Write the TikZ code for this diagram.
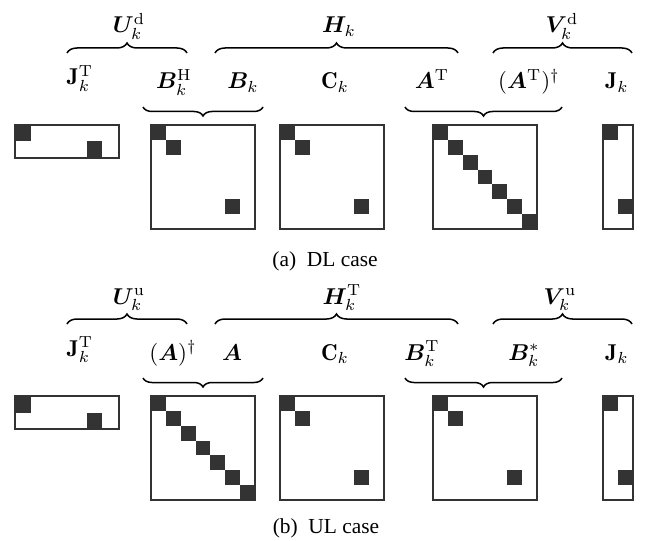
\documentclass[tikz,border=0pt]{standalone}
\usepackage{bm}
\usepackage{fontspec}
\newfontfamily\capfont{Liberation Serif}
\usetikzlibrary{decorations.pathreplacing}
\definecolor{ink}{HTML}{333333}
\tikzset{
  matbox/.style={draw=ink, line width=1.4bp, inner sep=0pt, outer sep=0pt, anchor=north west},
  upbrace/.style={decorate, decoration={brace, amplitude=10bp}, line width=1.5bp},
  lowbrace/.style={decorate, decoration={brace, amplitude=9bp}, line width=1.5bp},
  lbl/.style={anchor=base, inner sep=0pt, scale=2.3, font=\fontsize{10}{12}\selectfont},
  captext/.style={anchor=base, inner sep=0pt, font=\capfont\fontsize{21.5}{25}\selectfont},
}
\newcommand\sqcells[3]{\foreach \i/\j in {#3} {\fill[ink] ({#1+\j*14.857},{#2+\i*14.857}) rectangle ++(14.857,14.857);}}
\begin{document}
\begin{tikzpicture}[x=1bp,y=-1bp]
\useasboundingbox (0,0) rectangle (655,541);
\foreach \yo/\pn in {0/a,271/b} {
  \begin{scope}[yshift=-\yo bp]
  \fill[ink] (15,125) rectangle (30.5,141.5);
  \fill[ink] (87,141.5) rectangle (102,158);
  \node[matbox, minimum width=104bp, minimum height=33bp] (jt\pn) at (15,125) {};
  \fill[ink] (603,125) rectangle (618,139.857);
  \fill[ink] (618,199.3) rectangle (633,214.2);
  \node[matbox, minimum width=30bp, minimum height=104bp] (j\pn) at (603,125) {};
  \sqcells{280}{125}{0/0,1/1,5/5}
  \node[matbox, minimum width=104bp, minimum height=104bp] (c\pn) at (280,125) {};
  \coordinate (ua\pn) at (67,53);  \coordinate (ub\pn) at (187,53);
  \coordinate (ha\pn) at (215,53); \coordinate (hb\pn) at (458,53);
  \coordinate (va\pn) at (493,53); \coordinate (vb\pn) at (632,53);
  \coordinate (la\pn) at (143,107); \coordinate (lb\pn) at (263,107);
  \coordinate (ma\pn) at (405,107); \coordinate (mb\pn) at (562,107);
  \draw[upbrace] (ua\pn) -- (ub\pn);
  \draw[upbrace] (ha\pn) -- (hb\pn);
  \draw[upbrace] (va\pn) -- (vb\pn);
  \draw[lowbrace] (lb\pn) -- (la\pn);
  \draw[lowbrace] (mb\pn) -- (ma\pn);
  \node[lbl] (tj\pn) at (80,85) {$\mathbf{J}_k^{\mathrm{T}}$};
  \node[lbl] (tc\pn) at (335,89) {$\mathbf{C}_k$};
  \node[lbl] (tjj\pn) at (617,89) {$\mathbf{J}_k$};
  \end{scope}
}
% panel (a)
\sqcells{151}{125}{0/0,1/1,5/5}
\node[matbox, minimum width=104bp, minimum height=104bp] (ba) at (151,125) {};
\sqcells{433}{125}{0/0,1/1,2/2,3/3,4/4,5/5,6/6}
\node[matbox, minimum width=104bp, minimum height=104bp] (aa) at (433,125) {};
\node[lbl] (ua) at (129,33) {$\bm{U}_k^{\mathrm{d}}$};
\node[lbl] (ha) at (339,33) {$\bm{H}_k$};
\node[lbl] (va) at (562,33) {$\bm{V}_k^{\mathrm{d}}$};
\node[lbl] (bha) at (174,89) {$\bm{B}_k^{\mathrm{H}}$};
\node[lbl] (bka) at (243,89) {$\bm{B}_k$};
\node[lbl] (ata) at (432,89) {$\bm{A}^{\mathrm{T}}$};
\node[lbl] (atda) at (529,89) {$(\bm{A}^{\mathrm{T}})^{\dagger}$};
\node[captext] (capa) at (325,266) {(a)\ \ DL case};
% panel (b)
\sqcells{151}{396}{0/0,1/1,2/2,3/3,4/4,5/5,6/6}
\node[matbox, minimum width=104bp, minimum height=104bp] (bb) at (151,396) {};
\sqcells{433}{396}{0/0,1/1,5/5}
\node[matbox, minimum width=104bp, minimum height=104bp] (ab) at (433,396) {};
\node[lbl] (ub) at (129,304) {$\bm{U}_k^{\mathrm{u}}$};
\node[lbl] (hb) at (342,304) {$\bm{H}_k^{\mathrm{T}}$};
\node[lbl] (vb) at (560,304) {$\bm{V}_k^{\mathrm{u}}$};
\node[lbl] (adb) at (173,360) {$(\bm{A})^{\dagger}$};
\node[lbl] (abb) at (232,360) {$\bm{A}$};
\node[lbl] (btb) at (422,360) {$\bm{B}_k^{\mathrm{T}}$};
\node[lbl] (bsb) at (524,360) {$\bm{B}_k^{*}$};
\node[captext] (capb) at (326,533) {(b)\ \ UL case};
\end{tikzpicture}
\end{document}
